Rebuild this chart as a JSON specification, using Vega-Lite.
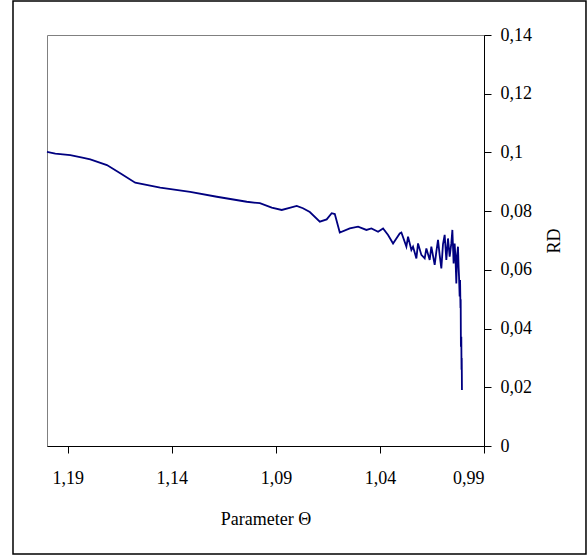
{
  "$schema": "https://vega.github.io/schema/vega-lite/v6.json",
  "width": 437,
  "height": 411,
  "autosize": {"type": "none"},
  "padding": {"left": 47, "top": 35, "right": 104, "bottom": 113},
  "background": "white",
  "config": {
    "view": {"stroke": "#808080", "strokeWidth": 1},
    "font": "Liberation Serif"
  },
  "data": {
    "values": [
      {"theta": 1.2000, "rd": 0.1002},
      {"theta": 1.1960, "rd": 0.0996},
      {"theta": 1.1888, "rd": 0.0991},
      {"theta": 1.1830, "rd": 0.0982},
      {"theta": 1.1792, "rd": 0.0976},
      {"theta": 1.1712, "rd": 0.0957},
      {"theta": 1.1648, "rd": 0.0929},
      {"theta": 1.1576, "rd": 0.0897},
      {"theta": 1.1456, "rd": 0.0880},
      {"theta": 1.1312, "rd": 0.0866},
      {"theta": 1.1184, "rd": 0.0849},
      {"theta": 1.1040, "rd": 0.0832},
      {"theta": 1.0977, "rd": 0.0827},
      {"theta": 1.0920, "rd": 0.0812},
      {"theta": 1.0872, "rd": 0.0804},
      {"theta": 1.0830, "rd": 0.0812},
      {"theta": 1.0800, "rd": 0.0818},
      {"theta": 1.0770, "rd": 0.0810},
      {"theta": 1.0737, "rd": 0.0797},
      {"theta": 1.0689, "rd": 0.0764},
      {"theta": 1.0656, "rd": 0.0772},
      {"theta": 1.0632, "rd": 0.0793},
      {"theta": 1.0617, "rd": 0.0790},
      {"theta": 1.0593, "rd": 0.0727},
      {"theta": 1.0545, "rd": 0.0741},
      {"theta": 1.0505, "rd": 0.0747},
      {"theta": 1.0465, "rd": 0.0736},
      {"theta": 1.0441, "rd": 0.0741},
      {"theta": 1.0409, "rd": 0.0730},
      {"theta": 1.0385, "rd": 0.0741},
      {"theta": 1.0361, "rd": 0.0719},
      {"theta": 1.0337, "rd": 0.0690},
      {"theta": 1.0305, "rd": 0.0724},
      {"theta": 1.0297, "rd": 0.0727},
      {"theta": 1.0273, "rd": 0.0679},
      {"theta": 1.0265, "rd": 0.0713},
      {"theta": 1.0249, "rd": 0.0668},
      {"theta": 1.0241, "rd": 0.0679},
      {"theta": 1.0225, "rd": 0.0639},
      {"theta": 1.0217, "rd": 0.0690},
      {"theta": 1.0201, "rd": 0.0651},
      {"theta": 1.0185, "rd": 0.0639},
      {"theta": 1.0177, "rd": 0.0673},
      {"theta": 1.0161, "rd": 0.0634},
      {"theta": 1.0153, "rd": 0.0679},
      {"theta": 1.0137, "rd": 0.0617},
      {"theta": 1.0129, "rd": 0.0662},
      {"theta": 1.0121, "rd": 0.0702},
      {"theta": 1.0113, "rd": 0.0650},
      {"theta": 1.0105, "rd": 0.0605},
      {"theta": 1.0097, "rd": 0.0688},
      {"theta": 1.0089, "rd": 0.0719},
      {"theta": 1.0081, "rd": 0.0634},
      {"theta": 1.0073, "rd": 0.0707},
      {"theta": 1.0065, "rd": 0.0645},
      {"theta": 1.0057, "rd": 0.0690},
      {"theta": 1.0052, "rd": 0.0736},
      {"theta": 1.0046, "rd": 0.0622},
      {"theta": 1.0041, "rd": 0.0690},
      {"theta": 1.0037, "rd": 0.0640},
      {"theta": 1.0033, "rd": 0.0554},
      {"theta": 1.0029, "rd": 0.0650},
      {"theta": 1.0025, "rd": 0.0679},
      {"theta": 1.0022, "rd": 0.0610},
      {"theta": 1.0020, "rd": 0.0577},
      {"theta": 1.0017, "rd": 0.0509},
      {"theta": 1.0015, "rd": 0.0565},
      {"theta": 1.0013, "rd": 0.0470},
      {"theta": 1.0012, "rd": 0.0500},
      {"theta": 1.0011, "rd": 0.0338},
      {"theta": 1.0009, "rd": 0.0372},
      {"theta": 1.0008, "rd": 0.0260},
      {"theta": 1.0007, "rd": 0.0300},
      {"theta": 1.0006, "rd": 0.0191}
    ]
  },
  "layer": [
    {
      "data": {"values": [{}]},
      "mark": {"type": "rect", "fill": null, "fillOpacity": 0, "stroke": "black", "strokeWidth": 1.5, "clip": false},
      "encoding": {
        "x": {"datum": 1.21634, "type": "quantitative"},
        "x2": {"datum": 0.94099},
        "y": {"datum": 0.15158, "type": "quantitative"},
        "y2": {"datum": -0.03679}
      }
    },
    {
      "mark": {"type": "line", "color": "#000080", "strokeWidth": 1.8, "interpolate": "linear"},
      "encoding": {
        "x": {
          "field": "theta",
          "type": "quantitative",
          "scale": {"domain": [0.99, 1.2], "reverse": true, "nice": false, "zero": false},
          "axis": {
            "title": "Parameter Θ",
            "values": [1.19, 1.14, 1.09, 1.04, 0.99],
            "labelExpr": "replace(format(datum.value, '.2f'), '.', ',')",
            "grid": false,
            "domainColor": "black",
            "tickColor": "black",
            "tickSize": 7,
            "labelPadding": 16,
            "labelFont": "Liberation Serif",
            "labelFontSize": 18,
            "labelColor": "black",
            "titleFont": "Liberation Serif",
            "titleFontSize": 18,
            "titleFontWeight": "normal",
            "titleColor": "black",
            "titlePadding": 23,
            "zindex": 1
          }
        },
        "y": {
          "field": "rd",
          "type": "quantitative",
          "scale": {"domain": [0, 0.14], "nice": false, "zero": true},
          "axis": {
            "orient": "right",
            "title": "RD",
            "values": [0, 0.02, 0.04, 0.06, 0.08, 0.1, 0.12, 0.14],
            "labelExpr": "replace(format(datum.value, '~g'), '.', ',')",
            "grid": false,
            "domainColor": "black",
            "tickColor": "black",
            "tickSize": 7,
            "labelPadding": 9,
            "labelFont": "Liberation Serif",
            "labelFontSize": 18,
            "labelColor": "black",
            "titleFont": "Liberation Serif",
            "titleFontSize": 18,
            "titleFontWeight": "normal",
            "titleColor": "black",
            "titleAngle": 270,
            "titlePadding": 32,
            "zindex": 1
          }
        }
      }
    }
  ]
}
